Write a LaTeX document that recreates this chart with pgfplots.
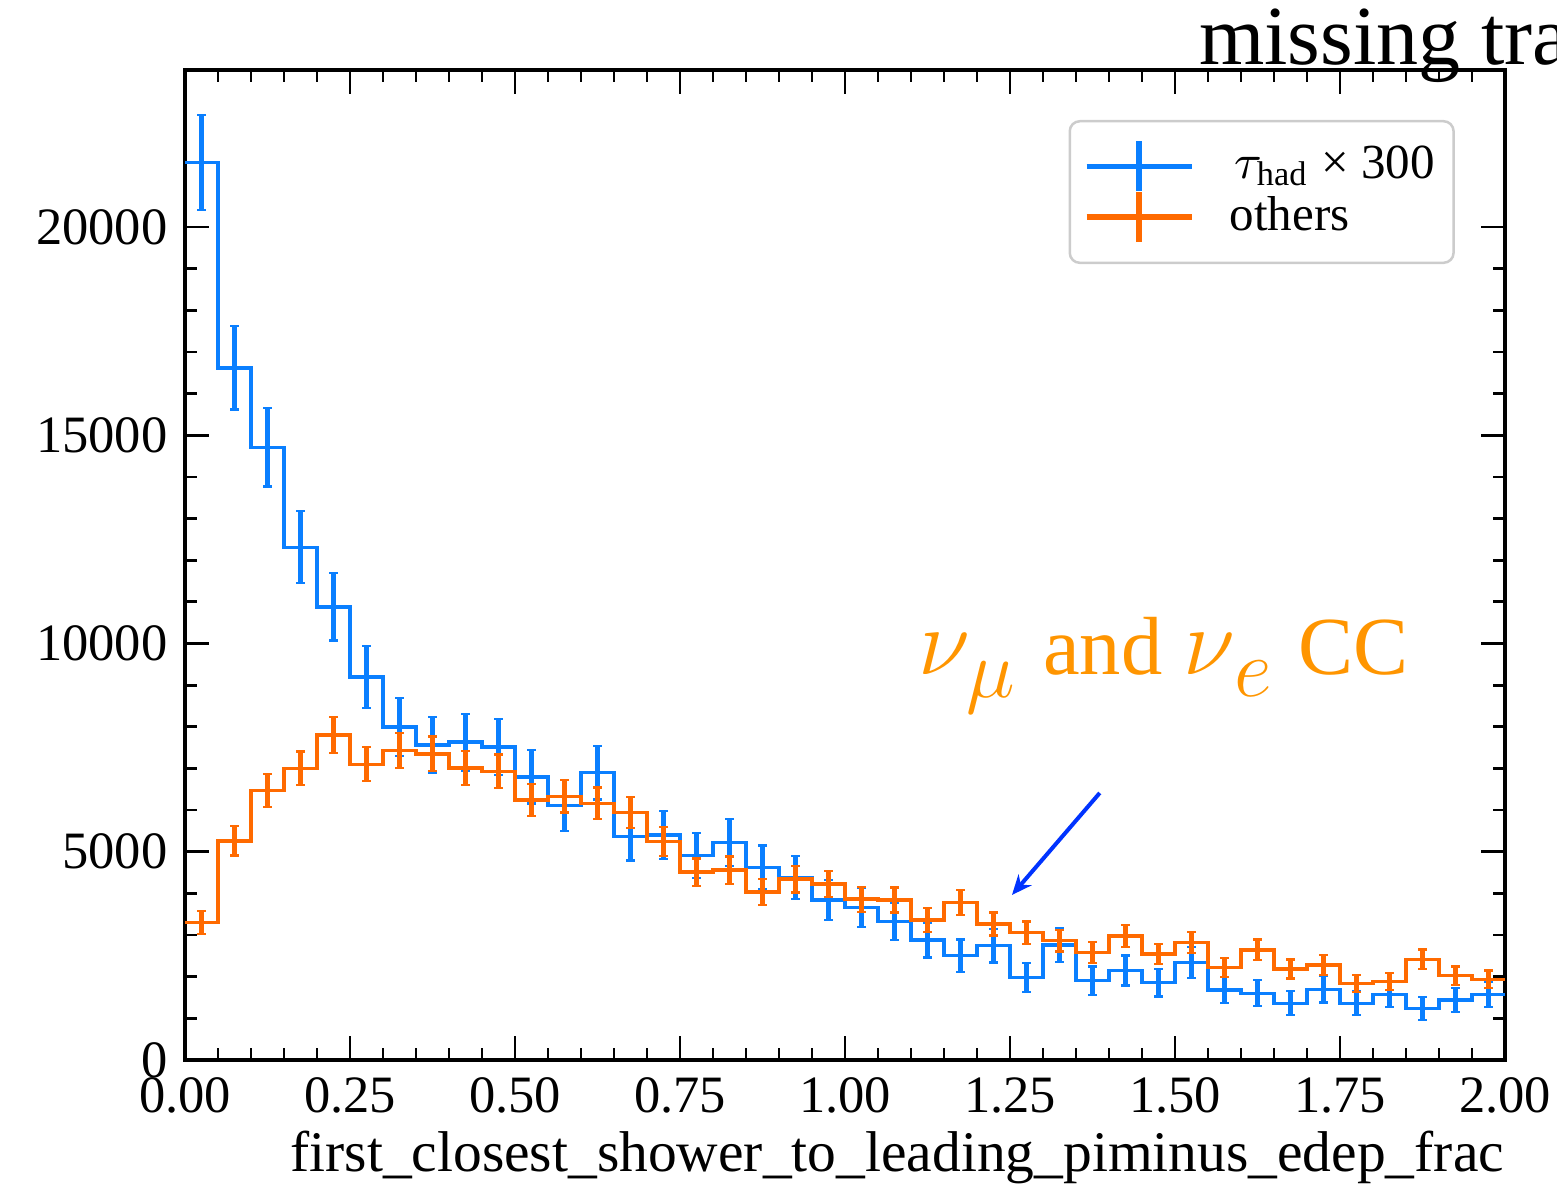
\documentclass[border=0pt]{standalone}
\usepackage{fix-cm}
\usepackage{pgfplots}
\pgfplotsset{compat=1.18}
\usepackage{pgfplotstable}
\usepackage{fontspec}
\setmainfont{Liberation Serif}
\usetikzlibrary{arrows.meta}

\definecolor{taublue}{HTML}{0A7FFF}
\definecolor{othorange}{HTML}{FF6A00}
\definecolor{annorange}{HTML}{FF9500}
\definecolor{arrowblue}{HTML}{0033FF}

% bin low edge, tau_had (x300) count and error, others count and error
\pgfplotstableread{
lo    tau   taue  oth   othe
0.00  21550 1141  3300  279
0.05  16620 1002  5260  352
0.10  14710 942   6470  390
0.15  12310 862   7000  406
0.20  10880 810   7800  428
0.25  9195  745   7100  409
0.30  8000  695   7430  418
0.35  7560  676   7350  416
0.40  7630  679   7010  406
0.45  7520  674   6930  404
0.50  6800  641   6240  383
0.55  6110  607   6330  386
0.60  6900  645   6160  381
0.65  5360  569   5940  374
0.70  5400  571   5250  351
0.75  4910  544   4510  326
0.80  5220  561   4560  327
0.85  4620  528   4030  308
0.90  4380  514   4340  320
0.95  3840  481   4230  315
1.00  3660  470   3860  301
1.05  3330  448   3842  301
1.10  2880  417   3361  281
1.15  2505  389   3786  298
1.20  2745  407   3265  277
1.25  1985  346   3057  268
1.30  2760  408   2865  260
1.35  1905  339   2580  246
1.40  2150  360   2977  265
1.45  1857  335   2540  244
1.50  2337  376   2817  257
1.55  1681  319   2225  229
1.60  1601  311   2641  249
1.65  1361  287   2185  227
1.70  1697  320   2281  232
1.75  1361  287   1841  208
1.80  1577  309   1881  210
1.85  1241  274   2417  238
1.90  1441  295   2025  218
1.95  1577  309   1937  213
2.00  1577  0     1937  0
}\hist

\pgfplotsset{
  errbars/.style={draw=none, mark=none, forget plot,
    skip coords between index={40}{41},
    error bars/.cd, y dir=both, y explicit,
    error bar style={draw=#1, line width=1pt},
    error mark options={rotate=90, draw=#1, line width=0.45pt, mark size=0.85pt}},
  crossimg/.style={legend image code/.code={
    \draw[#1, line width=1.1pt] (0pt,0pt) -- (21pt,0pt);
    \draw[#1, line width=1.1pt] (10.5pt,-5pt) -- (10.5pt,5pt);}},
}

\begin{document}
\begin{tikzpicture}
\begin{axis}[
  name=ax,
  scale only axis,
  width=264pt, height=198pt,
  xmin=0, xmax=2, ymin=0, ymax=23770,
  xtick={0,0.25,0.5,0.75,1,1.25,1.5,1.75,2},
  ytick={0,5000,10000,15000,20000},
  minor x tick num=4, minor y tick num=4,
  tick align=inside, xtick pos=both, ytick pos=both,
  major tick length=4.8pt, minor tick length=2.4pt,
  every tick/.style={black, line width=0.55pt},
  axis line style={line width=0.8pt},
  /pgf/number format/assume math mode=true,
  tick label style={font=\fontsize{10.5}{12}\selectfont},
  xticklabel style={/pgf/number format/.cd, fixed, fixed zerofill, precision=2},
  yticklabel style={/pgf/number format/.cd, fixed, 1000 sep={}},
  scaled y ticks=false,
  xlabel={first\_closest\_shower\_to\_leading\_piminus\_edep\_frac},
  xlabel style={at={(rel axis cs:1,0)}, anchor=base east, yshift=-22.4pt,
                inner sep=0pt, font=\fontsize{11.5}{13}\selectfont},
  legend cell align=left,
  legend style={at={(rel axis cs:0.962,0.9495)}, anchor=north east,
                draw=black!20, line width=0.5pt, rounded corners=2pt,
                font=\fontsize{9.8}{11}\selectfont,
                inner xsep=2.8pt, inner ysep=3pt, row sep=-2pt,
                nodes={inner xsep=1pt},
                /tikz/every odd column/.append style={column sep=6.1pt}},
]
% step outlines and error bars at bin centres
\addplot[const plot mark left, taublue, line width=0.7pt, forget plot]
  table[x=lo, y=tau]{\hist};
\addplot[errbars=taublue]
  table[x expr=\thisrow{lo}+0.025, y=tau, y error=taue]{\hist};
\addplot[const plot mark left, othorange, line width=0.7pt, forget plot]
  table[x=lo, y=oth]{\hist};
\addplot[errbars=othorange]
  table[x expr=\thisrow{lo}+0.025, y=oth, y error=othe]{\hist};

\addlegendimage{crossimg=taublue}
\addlegendentry{\kern1pt$\tau_{\mathrm{had}}$ × 300}
\addlegendimage{crossimg=othorange}
\addlegendentry{others}

\node[anchor=base west, inner sep=0pt, text=annorange,
      font=\fontsize{16.5}{19}\selectfont] at (axis cs:1.11,9244)
  {{\fontsize{19}{22}\selectfont$\nu$}\kern-0.8pt\raisebox{-4.6pt}{$\mu$}\kern1.5pt\ and
   {\fontsize{19}{22}\selectfont$\nu$}\raisebox{-4.4pt}{$e$}\kern1pt\ CC};
\draw[-{Stealth[length=4pt, width=3.4pt]}, arrowblue, line width=0.8pt]
  (axis cs:1.386,6411) -- (axis cs:1.253,3962);
\end{axis}
\node[anchor=base west, inner sep=0pt, font=\fontsize{16.8}{20}\selectfont]
  at ([xshift=202.6pt, yshift=1pt]ax.north west) {missing track};
\pgfresetboundingbox
\path[use as bounding box] ([shift={(-37pt,-25.2pt)}]ax.south west)
  rectangle ([shift={(10.4pt,14pt)}]ax.north east);
\end{tikzpicture}
\end{document}
